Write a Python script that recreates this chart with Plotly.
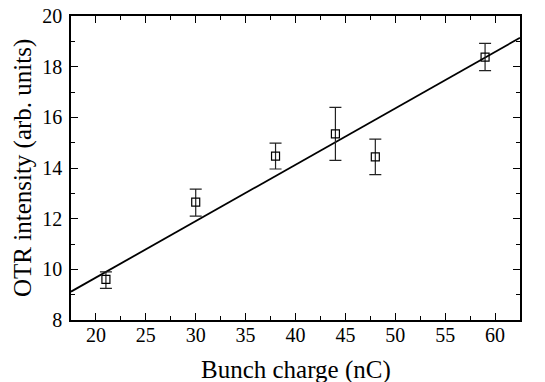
import plotly.graph_objects as go

charge = [21, 30, 38, 44, 48, 59]
intensity = [9.60, 12.65, 14.47, 15.35, 14.44, 18.38]
err_plus = [0.30, 0.52, 0.51, 1.04, 0.70, 0.54]
err_minus = [0.35, 0.55, 0.51, 1.05, 0.70, 0.54]

fit_x = [17.5, 62.5]
fit_y = [9.12, 19.14]

x_ticks = [20, 25, 30, 35, 40, 45, 50, 55, 60]
y_ticks = [8, 10, 12, 14, 16, 18, 20]

x_title = "Bunch charge (nC)"
y_title = "OTR intensity (arb. units)"

font_family = "Liberation Serif"

fig = go.Figure()
fig.add_trace(go.Scatter(
    x=fit_x, y=fit_y, mode="lines",
    line=dict(color="black", width=1.8), showlegend=False, hoverinfo="skip"))
fig.add_trace(go.Scatter(
    x=charge, y=intensity, mode="markers",
    marker=dict(symbol="square-open", size=8, color="black", line=dict(width=1.2)),
    error_y=dict(type="data", symmetric=False, array=err_plus, arrayminus=err_minus,
                 color="#222222", thickness=1.2, width=6),
    showlegend=False))

axis_common = dict(
    showline=True, linecolor="black", linewidth=1.5, mirror="ticks",
    ticks="inside", ticklen=7, tickwidth=1.2, tickcolor="black",
    showgrid=False, zeroline=False, automargin=False,
    tickfont=dict(family=font_family, size=20, color="black"),
)

fig.update_xaxes(
    range=[17.5, 62.5], tickvals=x_ticks, ticktext=[str(v) for v in x_ticks],
    minor=dict(dtick=2.5, tick0=0, ticks="inside", ticklen=4, tickwidth=1, tickcolor="black"),
    ticklabelstandoff=-4,
    **axis_common)
fig.update_yaxes(
    range=[8, 20], tickvals=y_ticks, ticktext=[str(v) for v in y_ticks],
    minor=dict(dtick=1, tick0=0, ticks="inside", ticklen=4, tickwidth=1, tickcolor="black"),
    ticklabelstandoff=3,
    **axis_common)

fig.add_annotation(text=x_title, xref="paper", yref="paper", x=0.5, y=0,
                   xanchor="center", yanchor="middle", yshift=-50, showarrow=False,
                   font=dict(family=font_family, size=25, color="black"))
fig.add_annotation(text=y_title, xref="paper", yref="paper", x=0, y=0.5,
                   xanchor="center", yanchor="middle", xshift=-48, textangle=-90,
                   showarrow=False,
                   font=dict(family=font_family, size=25, color="black"))

fig.update_layout(
    width=545, height=382,
    margin=dict(l=71, r=25, t=16, b=62),
    plot_bgcolor="white", paper_bgcolor="white",
    font=dict(family=font_family),
)

fig.write_html("out.html")
